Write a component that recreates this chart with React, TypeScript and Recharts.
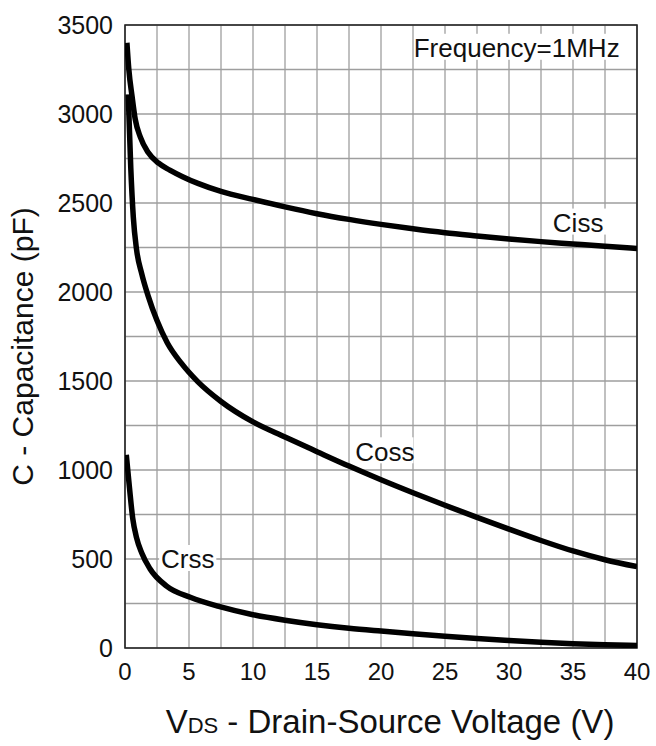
import {
  LineChart,
  Line,
  XAxis,
  YAxis,
  CartesianGrid,
  ReferenceArea,
  ReferenceDot,
  Label,
} from "recharts";

// V_DS (V) and capacitance (pF)
const cissVoltage = [0.15, 0.3, 0.55, 0.8, 1.2, 1.8, 2.6, 3.5, 4.5, 5.7, 7.5, 10, 12.5, 15, 17.5, 20, 22.5, 25, 27.5, 30, 32.5, 35, 37.5, 40];
const cissCapacitance = [3400, 3250, 3100, 2970, 2870, 2785, 2725, 2685, 2648, 2610, 2565, 2520, 2478, 2440, 2408, 2380, 2355, 2333, 2315, 2298, 2283, 2270, 2257, 2245];

const cossVoltage = [0.25, 0.45, 0.65, 0.9, 1.3, 1.8, 2.5, 3.3, 4.4, 5.7, 7.5, 10, 12.5, 15, 17.5, 20, 22.5, 25, 27.5, 30, 32.5, 35, 37.5, 40];
const cossCapacitance = [3110, 2700, 2420, 2240, 2105, 1980, 1840, 1715, 1600, 1495, 1385, 1270, 1185, 1103, 1022, 945, 872, 802, 734, 668, 604, 545, 496, 457];

const crssVoltage = [0.1, 0.35, 0.6, 0.9, 1.3, 1.95, 3.25, 5.1, 7.4, 10, 12.5, 15, 17.5, 20, 22.5, 25, 27.5, 30, 32.5, 35, 37.5, 40];
const crssCapacitance = [1085, 900, 730, 620, 535, 445, 348, 285, 232, 187, 156, 131, 111, 95, 80, 66, 53, 42, 32, 24, 18, 14];

const xTicks = [0, 2.5, 5, 7.5, 10, 12.5, 15, 17.5, 20, 22.5, 25, 27.5, 30, 32.5, 35, 37.5, 40];
const yTicks = [0, 250, 500, 750, 1000, 1250, 1500, 1750, 2000, 2250, 2500, 2750, 3000, 3250, 3500];

// where the text labels sit, in chart units
const curveLabels = [
  { text: "Ciss", v: 35.4, c: 2390 },
  { text: "Coss", v: 20.3, c: 1105 },
  { text: "Crss", v: 4.9, c: 500 },
  { text: "Frequency=1MHz", v: 30.6, c: 3372 },
];

const FONT = '"Liberation Sans", Arial, sans-serif';

const toPoints = (vs: number[], cs: number[]) => vs.map((v, i) => ({ v, c: cs[i] }));

const cissData = toPoints(cissVoltage, cissCapacitance);
const cossData = toPoints(cossVoltage, cossCapacitance);
const crssData = toPoints(crssVoltage, crssCapacitance);

function TextBox({ cx, cy, text }: { cx?: number; cy?: number; text: string }) {
  if (cx == null || cy == null) return null;
  const w = text.length * 13.8 + 2;
  return (
    <g>
      <rect x={cx - w / 2} y={cy - 14} width={w} height={26} fill="#fff" />
      <text
        x={cx}
        y={cy + 9.3}
        textAnchor="middle"
        fontSize={26}
        fontFamily={FONT}
        fill="#111"
      >
        {text}
      </text>
    </g>
  );
}

export default function App() {
  return (
    <div
      style={{
        position: "absolute",
        left: 0,
        top: 0,
        width: 656,
        height: 746,
        background: "#fff",
      }}
    >
      <LineChart
        width={656}
        height={746}
        margin={{ top: 25, right: 19, bottom: 0, left: 0 }}
      >
        <CartesianGrid stroke="#9e9e9e" strokeWidth={1.3} />
        <XAxis
          type="number"
          dataKey="v"
          domain={[0, 40]}
          ticks={xTicks}
          interval={0}
          height={98}
          allowDataOverflow
          axisLine={false}
          tickLine={false}
          tickSize={0}
          tickMargin={15}
          tickFormatter={(v: number) => (v % 5 === 0 ? String(v) : "")}
          tick={{ fill: "#111", fontSize: 24, fontFamily: FONT }}
        >
          <Label
            content={(props: any) => {
              const vb = props.viewBox || { x: 125, width: 512 };
              return (
                <text
                  x={vb.x + vb.width / 2 + 9}
                  y={733}
                  textAnchor="middle"
                  fontSize={33}
                  fontFamily={FONT}
                  fill="#111"
                >
                  V<tspan fontSize={22}>DS</tspan> - Drain-Source Voltage (V)
                </text>
              );
            }}
          />
        </XAxis>
        <YAxis
          type="number"
          domain={[0, 3500]}
          ticks={yTicks}
          interval={0}
          width={125}
          allowDataOverflow
          axisLine={false}
          tickLine={false}
          tickSize={0}
          tickMargin={12}
          tickFormatter={(v: number) => (v % 500 === 0 ? String(v) : "")}
          tick={{ fill: "#111", fontSize: 25, fontFamily: FONT }}
        >
          <Label
            content={(props: any) => {
              const vb = props.viewBox || { y: 25, height: 623 };
              const cy = vb.y + vb.height / 2 + 10;
              return (
                <text
                  x={33}
                  y={cy}
                  transform={`rotate(-90, 33, ${cy})`}
                  textAnchor="middle"
                  fontSize={30}
                  fontFamily={FONT}
                  fill="#111"
                >
                  C - Capacitance (pF)
                </text>
              );
            }}
          />
        </YAxis>
        {curveLabels.map((l) => (
          <ReferenceDot
            key={l.text}
            x={l.v}
            y={l.c}
            r={1}
            ifOverflow="visible"
            shape={(p: any) => <TextBox cx={p.cx} cy={p.cy} text={l.text} />}
          />
        ))}
        <ReferenceArea
          x1={0}
          x2={40}
          y1={0}
          y2={3500}
          fill="none"
          stroke="#222"
          strokeWidth={1.6}
          ifOverflow="visible"
        />
        <Line
          data={cissData}
          dataKey="c"
          type="monotone"
          stroke="#000"
          strokeWidth={5.5}
          dot={false}
          activeDot={false}
          isAnimationActive={false}
        />
        <Line
          data={cossData}
          dataKey="c"
          type="monotone"
          stroke="#000"
          strokeWidth={5.5}
          dot={false}
          activeDot={false}
          isAnimationActive={false}
        />
        <Line
          data={crssData}
          dataKey="c"
          type="monotone"
          stroke="#000"
          strokeWidth={5.5}
          dot={false}
          activeDot={false}
          isAnimationActive={false}
        />
      </LineChart>
    </div>
  );
}
